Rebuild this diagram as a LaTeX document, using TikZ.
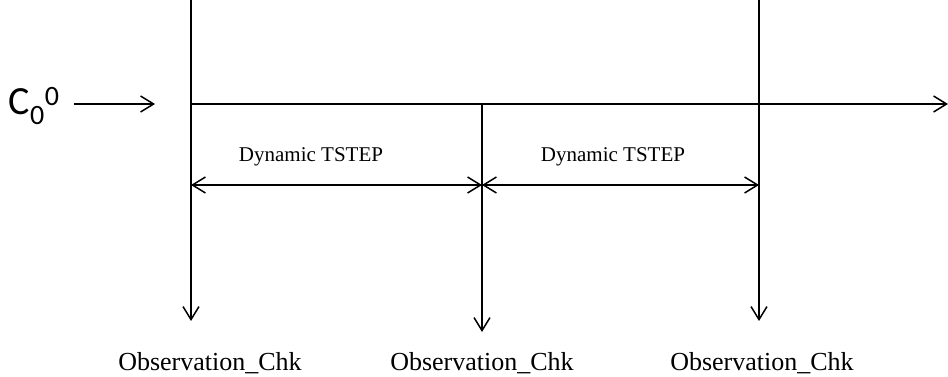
\documentclass[tikz,border=0pt]{standalone}
\usepackage{fontspec}
\setmainfont{Liberation Serif}
\newfontfamily\calib{Carlito}
\usetikzlibrary{arrows.meta}

\begin{document}
\begin{tikzpicture}[x=1pt, y=-1pt, line width=1.5pt, >={Straight Barb[length=13pt,width=16pt,line width=1.5pt]},
    lbl/.style={font=\fontsize{21}{25}\selectfont, inner sep=0pt},
    obs/.style={font=\fontsize{26}{30}\selectfont, inner sep=0pt}]
  \useasboundingbox (0,0) rectangle (948,377);
  \coordinate (top1) at (191,0);
  \coordinate (top3) at (759,0);
  \coordinate (in) at (155,104);
  \coordinate (start) at (191,104);
  \coordinate (mid) at (482,104);
  \coordinate (end) at (948,104);
  \coordinate (s1) at (191,185);
  \coordinate (s2) at (482,185);
  \coordinate (s3) at (759,185);
  \coordinate (bot1) at (191,321);
  \coordinate (bot2) at (482,332);
  \coordinate (bot3) at (759,321);
  \node[font=\calib\fontsize{40}{46}\selectfont, inner sep=0pt, anchor=west] (c00) at (8,106) {C\textsubscript{0}\textsuperscript{0}};
  \node[lbl] (ts1) at (311,157) {Dynamic TSTEP};
  \node[lbl] (ts2) at (613,157) {Dynamic TSTEP};
  \node[obs] (obs1) at (210,363) {Observation\_Chk};
  \node[obs] (obs2) at (482,363) {Observation\_Chk};
  \node[obs] (obs3) at (762,363) {Observation\_Chk};
  \draw[->] (c00.east |- in) ++(14,0) -- (in);
  \draw[->] (start) -- (end);
  \draw[->] (top1) -- (bot1);
  \draw[->] (mid) -- (bot2);
  \draw[->] (top3) -- (bot3);
  \draw[<->] (s1) -- (s2);
  \draw[<->] (s2) -- (s3);
\end{tikzpicture}
\end{document}
